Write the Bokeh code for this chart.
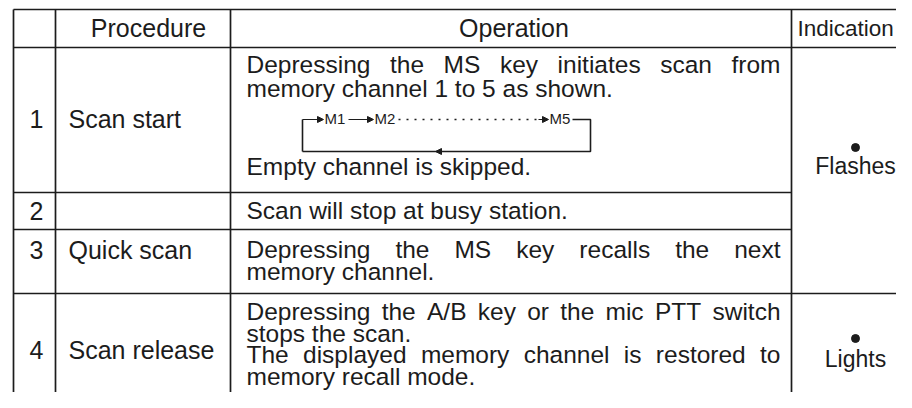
from bokeh.plotting import figure
from bokeh.models import Range1d, ColumnDataSource, Arrow, NormalHead
from bokeh.embed import file_html
from bokeh.resources import INLINE
from bokeh.core.properties import value

# ---------------- data (table content) ----------------
headers = ["", "Procedure", "Operation", "Indication"]
steps = ["1", "2", "3", "4"]
procedures = ["Scan start", "", "Quick scan", "Scan release"]
op_row1 = ["Depressing the MS key initiates scan from", "memory channel 1 to 5 as shown."]
op_row1_note = ["Empty channel is skipped."]
op_row2 = ["Scan will stop at busy station."]
op_row3 = ["Depressing the MS key recalls the next", "memory channel."]
op_row4 = ["Depressing the A/B key or the mic PTT switch", "stops the scan.",
           "The displayed memory channel is restored to", "memory recall mode."]
op_row1_just = [True, False]
op_row1_note_just = [False]
op_row2_just = [False]
op_row3_just = [True, False]
op_row4_just = [True, False, True, False]
diagram_labels = ["M1", "M2", "M5"]
indications = ["Flashes", "Lights"]

# ---------------- layout ----------------
INK = "#1c1c1c"
FONT = "Liberation Sans"
col_x = [13, 55, 230, 791, 930]
row_y = [9, 47, 192, 229, 293, 430]
OP_LEFT, OP_RIGHT = 246, 780
OP_FS = 24.5
PROC_FS = 25
HEAD_FS = 25
IND_FS = 23
PROC_LEFT = 68
STEP_CX = 36
IND_CX = 855

# Helvetica / Arial advance widths (per 1000 em) for justification
W = {' ': 278, '.': 278, '/': 278, ',': 278}
for ch in "0123456789":
    W[ch] = 556
W.update(dict(zip("ABCDEFGHIJKLMNOPQRSTUVWXYZ",
                  [667, 667, 722, 722, 667, 611, 778, 722, 278, 500, 667, 556, 833,
                   722, 778, 667, 778, 722, 667, 611, 722, 667, 944, 667, 667, 611])))
W.update(dict(zip("abcdefghijklmnopqrstuvwxyz",
                  [556, 556, 500, 556, 556, 278, 556, 556, 222, 222, 500, 222, 833,
                   556, 556, 556, 556, 333, 500, 278, 556, 500, 722, 500, 500, 500])))


def tw(s, fs):
    return sum(W.get(c, 556) for c in s) * fs / 1000.0


op_x, op_y, op_t = [], [], []


def place(lines, just, centers):
    for line, j, cy in zip(lines, just, centers):
        if not j:
            op_x.append(OP_LEFT); op_y.append(cy); op_t.append(line)
            continue
        words = line.split(" ")
        widths = [tw(w, OP_FS) for w in words]
        gap = (OP_RIGHT - OP_LEFT - sum(widths)) / (len(words) - 1)
        x = OP_LEFT
        for w, ww in zip(words, widths):
            op_x.append(x); op_y.append(cy); op_t.append(w)
            x += ww + gap


place(op_row1, op_row1_just, [64, 88])
place(op_row1_note, op_row1_note_just, [165.5])
place(op_row2, op_row2_just, [210])
place(op_row3, op_row3_just, [249, 271])
place(op_row4, op_row4_just, [311, 332.5, 354, 375.5])

p = figure(width=896, height=392, x_range=Range1d(0, 896), y_range=Range1d(392, 0),
           output_backend="svg", toolbar_location=None, min_border=0,
           x_axis_type=None, y_axis_type=None)
p.grid.visible = False
p.outline_line_color = None
p.background_fill_color = "white"
p.border_fill_color = "white"

# table rules
hx0 = [col_x[0]] * 5
hx1 = [col_x[4], col_x[4], col_x[3], col_x[3], col_x[4]]
hy = [row_y[0], row_y[1], row_y[2], row_y[3], row_y[4]]
p.segment(x0=hx0, y0=hy, x1=hx1, y1=hy, line_color=INK, line_width=1.7)
vx = col_x[:4]
p.segment(x0=vx, y0=[row_y[0]] * 4, x1=vx, y1=[row_y[5]] * 4, line_color=INK, line_width=1.7)

# headers
head_src = ColumnDataSource(dict(x=[34, 148, 513.5], y=[27] * 3, t=headers[:3]))
p.text(x="x", y="y", text="t", source=head_src, text_font=value(FONT),
       text_font_size=f"{HEAD_FS}px", text_align="center", text_baseline="middle",
       text_color=INK)
p.text(x=[797], y=[27.5], text=headers[3:], text_font=value(FONT),
       text_font_size="22.5px", text_align="left", text_baseline="middle", text_color=INK)

# step numbers and procedures
step_cy = [118, 210, 249, 349]
p.text(x=[STEP_CX] * 4, y=step_cy, text=steps, text_font=value(FONT),
       text_font_size=f"{PROC_FS}px", text_align="center", text_baseline="middle",
       text_color=INK)
p.text(x=[PROC_LEFT] * 4, y=step_cy, text=procedures, text_font=value(FONT),
       text_font_size=f"{PROC_FS}px", text_align="left", text_baseline="middle",
       text_color=INK)

# operations
p.text(x=op_x, y=op_y, text=op_t, text_font=value(FONT),
       text_font_size=f"{OP_FS}px", text_align="left", text_baseline="middle",
       text_color=INK)

# scan diagram
DY_TOP, DY_BOT = 119, 151
p.text(x=[324, 374, 549], y=[118] * 3, text=diagram_labels, text_font=value(FONT),
       text_font_size="15px", text_align="left", text_baseline="middle", text_color=INK)
p.line(x=[302, 302], y=[DY_BOT, DY_TOP], line_color=INK, line_width=1.6)
p.line(x=[572, 590, 590, 302], y=[DY_TOP, DY_TOP, DY_BOT, DY_BOT], line_color=INK, line_width=1.6)
p.line(x=[398, 537], y=[DY_TOP, DY_TOP], line_color=INK, line_width=1.5, line_dash="2 6")
for xs, xe, yy in [(302, 323, DY_TOP), (348, 373, DY_TOP), (538, 548, DY_TOP), (452, 435, DY_BOT)]:
    p.add_layout(Arrow(x_start=xs, y_start=yy, x_end=xe, y_end=yy, line_color=INK,
                       line_width=1.2,
                       end=NormalHead(size=6, line_color=INK, fill_color=INK, line_width=1)))

# indications
ind_cy = [165.5, 358]
dot_cy = [147, 338]
p.scatter(x=[IND_CX] * 2, y=dot_cy, size=8, marker="circle", fill_color=INK, line_color=INK)
p.text(x=[IND_CX] * 2, y=ind_cy, text=indications, text_font=value(FONT),
       text_font_size=f"{IND_FS}px", text_align="center", text_baseline="middle",
       text_color=INK)

open("out.html", "w").write(file_html(p, INLINE))
